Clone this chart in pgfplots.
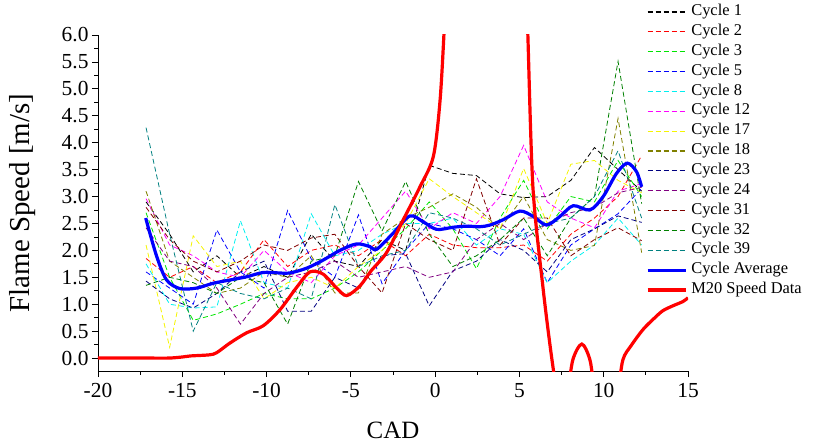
\documentclass[border=0pt]{standalone}
\usepackage{fontspec}
\setmainfont{Liberation Serif}
\usepackage{pgfplots}
\usepackage{pgfplotstable}
\pgfplotsset{compat=1.18}
\definecolor{cA}{RGB}{0,0,0}
\definecolor{cB}{RGB}{255,0,0}
\definecolor{cC}{RGB}{0,230,0}
\definecolor{cD}{RGB}{0,0,255}
\definecolor{cE}{RGB}{0,240,240}
\definecolor{cF}{RGB}{255,0,255}
\definecolor{cG}{RGB}{245,245,0}
\definecolor{cH}{RGB}{128,128,0}
\definecolor{cI}{RGB}{0,0,128}
\definecolor{cJ}{RGB}{128,0,128}
\definecolor{cK}{RGB}{128,0,0}
\definecolor{cL}{RGB}{0,128,0}
\definecolor{cM}{RGB}{0,128,128}
\newcommand{\tfont}{\fontsize{21.5}{21.5}\selectfont}
\pgfplotstableread{
x c1 c2 c3 c5 c8 c12 c17 c18 c23 c24 c31 c32 c39
-17.15 2.90 1.85 2.70 1.60 1.75 2.96 2.10 3.10 1.43 2.42 2.80 1.35 4.28
-15.75 2.30 1.50 1.50 1.30 1.00 2.10 0.20 1.80 1.10 1.80 2.20 1.50 2.30
-14.35 1.60 1.70 0.70 1.00 0.93 1.90 2.27 1.50 0.93 1.70 1.80 1.40 0.50
-12.95 1.90 1.40 0.82 2.38 0.95 1.60 1.70 1.20 1.20 1.30 1.60 1.20 1.40
-11.55 1.50 1.60 1.00 1.60 2.55 1.50 1.80 1.30 1.60 0.63 1.80 1.50 1.20
-10.15 1.70 2.20 1.20 1.30 1.40 2.00 1.10 1.60 1.80 1.20 2.10 1.40 1.10
-8.75 1.50 1.70 1.10 2.74 1.30 1.60 1.40 1.50 0.87 1.50 2.00 0.63 1.30
-7.35 2.30 2.00 1.10 1.84 2.68 1.40 1.50 1.90 0.87 1.60 2.23 1.80 1.10
-5.95 1.80 2.10 1.30 1.50 1.90 1.90 1.30 1.21 1.50 1.80 2.30 1.90 2.85
-4.55 1.70 1.90 1.60 2.66 2.00 2.10 1.70 1.21 1.30 1.50 1.70 3.28 1.70
-3.15 2.20 2.20 2.00 1.38 2.30 2.60 2.00 2.30 1.90 1.60 1.21 2.36 1.90
-1.75 2.00 1.90 2.40 2.00 2.50 3.10 2.50 2.60 1.94 1.70 2.50 3.28 2.00
-0.35 3.58 2.30 2.90 2.50 2.50 2.40 3.33 2.80 0.97 1.50 2.20 2.30 2.70
1.05 3.43 2.10 2.40 2.40 2.60 2.70 3.00 3.05 1.62 1.60 2.00 1.70 2.60
2.45 3.39 2.05 1.66 2.20 2.10 2.50 2.70 2.80 1.80 2.20 3.33 1.90 2.40
3.85 3.05 2.05 2.60 1.90 2.40 3.00 2.40 2.40 2.20 2.50 2.10 2.20 2.10
5.25 2.98 2.10 3.30 2.40 2.30 3.95 3.52 3.00 2.00 2.20 2.60 2.60 2.30
6.65 3.00 1.80 2.40 1.40 1.40 2.90 2.50 2.20 1.60 2.50 2.60 1.90 2.50
8.05 3.30 2.30 3.00 2.10 1.80 2.60 3.60 2.00 2.20 2.70 1.90 2.60 2.60
9.45 3.91 2.60 2.90 2.40 2.10 2.42 3.67 2.09 2.40 2.80 2.20 3.00 3.00
10.85 3.50 3.00 3.67 2.68 2.60 3.10 3.30 4.45 2.64 3.07 2.42 5.51 3.85
12.25 3.10 3.76 3.00 3.15 2.10 3.24 3.07 1.96 2.52 3.17 2.18 2.87 2.60
}\cycles
\begin{document}
\begin{tikzpicture}
\useasboundingbox (-98bp,-73bp) rectangle (718bp,371bp);
\begin{axis}[
  at={(0,0)}, anchor=south west,
  scale only axis, width=590bp, height=336bp,
  xmin=-20, xmax=15, ymin=-0.24, ymax=6,
  axis x line*=bottom, axis y line*=left,
  axis line style={line width=0.8bp},
  xtick={-20,-15,-10,-5,0,5,10,15}, minor x tick num=1,
  ytick={0,0.5,1,1.5,2,2.5,3,3.5,4,4.5,5,5.5,6}, minor y tick num=1,
  tick align=outside, major tick length=6bp, minor tick length=3.5bp,
  tick style={line width=0.8bp, black},
  /pgf/number format/assume math mode=true,
  xticklabel={\hbox{\tfont\pgfmathprintnumber[assume math mode=true]{\tick}}},
  yticklabel={\hbox{\tfont\pgfmathprintnumber[assume math mode=true,fixed,fixed zerofill,precision=1]{\tick}}},
  xticklabel style={yshift=-3bp},
  xlabel={CAD}, ylabel={Flame Speed [m/s]},
  xlabel style={font=\fontsize{25}{25}\selectfont, at={(axis description cs:0.5,-0.176)}, anchor=center},
  ylabel style={font=\fontsize{29}{29}\selectfont, at={(axis description cs:-0.128,0.5)}, anchor=center, rotate=0},
  legend image code/.code={\draw[#1] (0bp,0bp) -- (38bp,0bp); \path (42bp,0bp);},
  legend cell align=left,
  legend style={at={(axis description cs:0.929,1.098)}, anchor=north west,
    draw=none, fill=none, inner sep=0pt, outer sep=0pt, row sep=0pt,
    font=\fontsize{16.5}{16.5}\selectfont,
    nodes={inner sep=0pt, text height=13.5bp, text depth=6.36bp}},
  cyc/.style={line width=0.8bp, dash pattern=on 5bp off 3bp,
    legend image post style={line width=1.2bp}},
]
\addplot[cyc, color=cA] table[x=x, y=c1] {\cycles}; \addlegendentry{Cycle 1}
\addplot[cyc, color=cB] table[x=x, y=c2] {\cycles}; \addlegendentry{Cycle 2}
\addplot[cyc, color=cC] table[x=x, y=c3] {\cycles}; \addlegendentry{Cycle 3}
\addplot[cyc, color=cD] table[x=x, y=c5] {\cycles}; \addlegendentry{Cycle 5}
\addplot[cyc, color=cE] table[x=x, y=c8] {\cycles}; \addlegendentry{Cycle 8}
\addplot[cyc, color=cF] table[x=x, y=c12] {\cycles}; \addlegendentry{Cycle 12}
\addplot[cyc, color=cG] table[x=x, y=c17] {\cycles}; \addlegendentry{Cycle 17}
\addplot[cyc, color=cH] table[x=x, y=c18] {\cycles}; \addlegendentry{Cycle 18}
\addplot[cyc, color=cI] table[x=x, y=c23] {\cycles}; \addlegendentry{Cycle 23}
\addplot[cyc, color=cJ] table[x=x, y=c24] {\cycles}; \addlegendentry{Cycle 24}
\addplot[cyc, color=cK] table[x=x, y=c31] {\cycles}; \addlegendentry{Cycle 31}
\addplot[cyc, color=cL] table[x=x, y=c32] {\cycles}; \addlegendentry{Cycle 32}
\addplot[cyc, color=cM] table[x=x, y=c39] {\cycles}; \addlegendentry{Cycle 39}
\addplot[blue, line width=3.2bp, smooth, tension=0.5] coordinates {
(-17.17,2.60) (-16.52,1.89) (-15.93,1.45) (-15.14,1.29) (-14.15,1.30) (-13.16,1.39)
(-12.17,1.45) (-11.18,1.51) (-10.20,1.59) (-9.20,1.58) (-8.61,1.58) (-7.62,1.67)
(-6.64,1.82) (-5.65,2.00) (-4.66,2.12) (-3.87,2.07) (-3.47,2.02) (-2.49,2.32)
(-1.50,2.64) (-0.71,2.53) (0.09,2.39) (1.07,2.43) (1.87,2.45) (2.66,2.44)
(3.25,2.47) (4.04,2.57) (5.03,2.73) (5.82,2.63) (6.61,2.47) (7.40,2.63)
(8.19,2.83) (9.18,2.75) (9.97,3.00) (10.76,3.43) (11.40,3.62) (11.95,3.46) (12.25,3.18)
}; \addlegendentry{Cycle Average}
\addplot[red, line width=3.2bp, smooth, tension=0.5] coordinates {
(-20,0) (-18.5,0) (-17,0) (-15.8,0) (-15,0.02) (-14.5,0.04) (-13.4,0.06)
(-12.96,0.10) (-12.17,0.28) (-11.18,0.47) (-10.2,0.60) (-9.2,0.90) (-8.2,1.32)
(-7.43,1.60) (-6.65,1.56) (-5.84,1.30) (-5.25,1.16) (-4.46,1.34) (-3.8,1.62)
(-2.88,1.96) (-1.89,2.57) (-0.9,3.18) (-0.11,3.74) (0.28,4.74) (0.52,6.0) (0.75,7.6)
(5.35,7.6) (5.5,6.0) (5.8,3.18) (6.39,1.33) (6.93,-0.03) (7.3,-0.7) (7.8,-0.7)
(8.17,-0.03) (8.7,0.26) (9.18,-0.03) (9.6,-0.7) (10.7,-0.7) (11.14,-0.03)
(11.6,0.22) (12.33,0.53) (13.0,0.74) (13.51,0.88) (14.1,0.97) (14.7,1.05) (15,1.12)
}; \addlegendentry{M20 Speed Data}
\end{axis}
\end{tikzpicture}
\end{document}
